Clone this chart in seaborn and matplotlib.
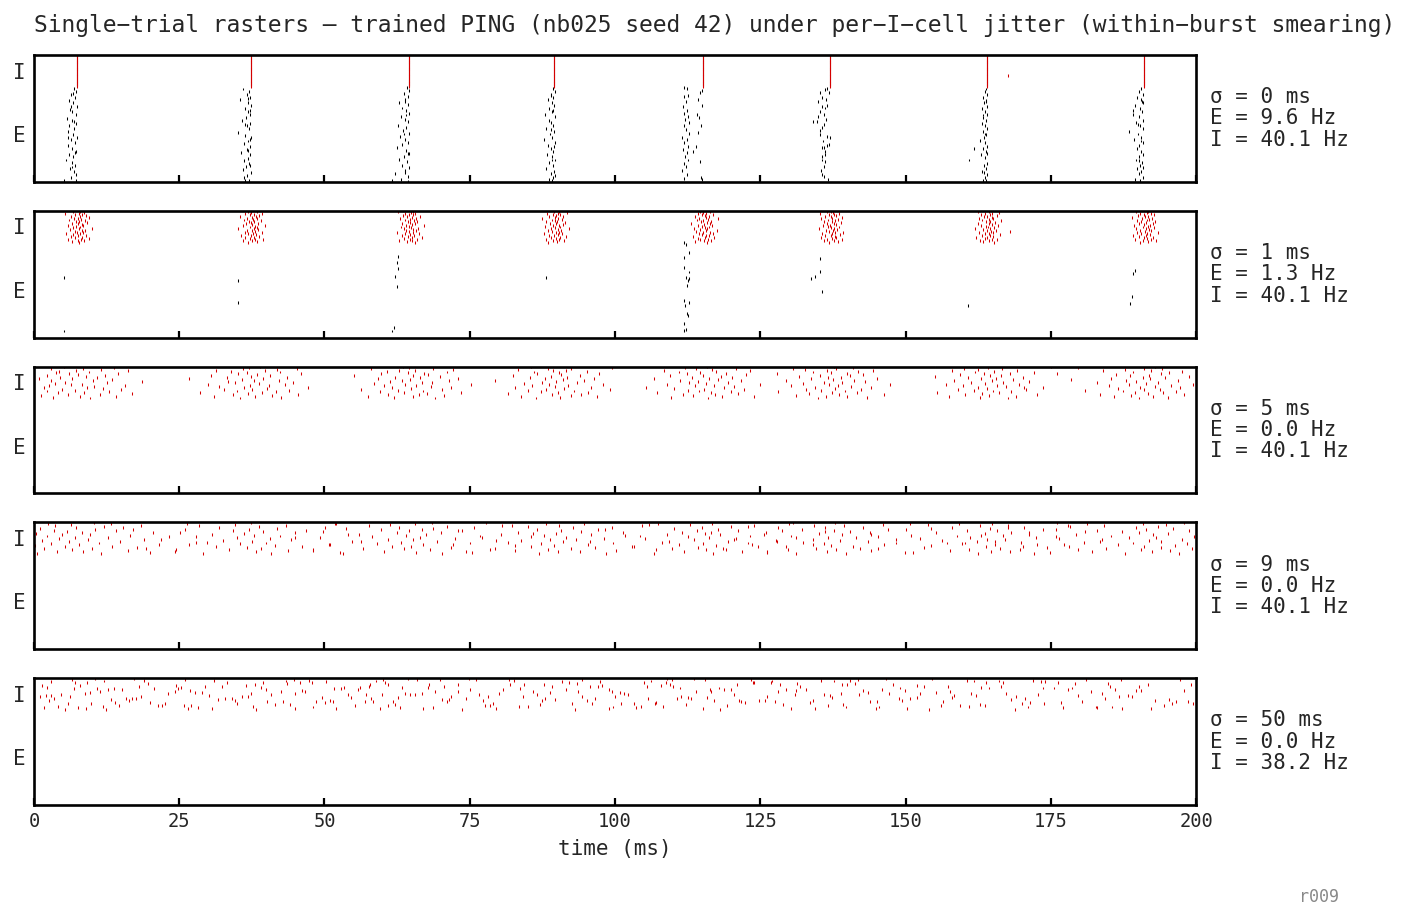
import numpy as np
import pandas as pd
import matplotlib
matplotlib.use("Agg")
import matplotlib.pyplot as plt
import seaborn as sns

sns.set_theme(style="white")
plt.rcParams['font.family'] = ['DejaVu Sans Mono', 'DejaVu Sans']

N_E, N_I = 150, 50
T_MAX = 200

# population burst times (ms) of the unjittered network
burst_times = [7.4, 37.3, 64.5, 89.5, 115.1, 137.0, 164.0, 191.0]

sigmas = [0, 1, 5, 9, 50]
e_rates = [9.6, 1.3, 0.0, 0.0, 0.0]
i_rates = [40.1, 40.1, 40.1, 40.1, 38.2]

# one I cell fires one extra (off-burst) spike
extra_cell = 17
extra_times = [167.6, 167.9, 170.3, 160.2, 58.0]

# E spikes (time ms, E cell) for sigma = 0
e_spikes_s0 = [
    (6.9, 147), (7.3, 142), (6.4, 137), (7.1, 133), (6.0, 128), (6.8, 124), (7.4, 119), (6.2, 114),
    (6.6, 110), (7.2, 106), (5.7, 100), (6.5, 97), (7.3, 92), (6.1, 88), (6.9, 84), (5.9, 79),
    (6.7, 74), (7.4, 70), (6.3, 66), (7.0, 61), (5.8, 57), (6.6, 52), (7.2, 48), (6.0, 43),
    (6.8, 39), (5.6, 34), (6.5, 30), (7.1, 25), (6.2, 21), (6.9, 16), (7.3, 11), (6.4, 7),
    (5.2, 2), (7.3, 2), (6.7, 139), (6.3, 118), (6.9, 94), (5.9, 70), (7.0, 46), (6.6, 23),
    (36.0, 146), (37.0, 142), (36.6, 138), (37.2, 133), (35.4, 129), (36.9, 124), (37.3, 120), (36.3, 115),
    (36.8, 110), (37.1, 106), (36.5, 101), (35.8, 97), (37.2, 92), (36.7, 88), (37.0, 83), (35.2, 78),
    (36.4, 73), (37.3, 69), (36.9, 64), (36.2, 60), (37.1, 55), (36.6, 51), (35.6, 46), (37.2, 42),
    (36.8, 37), (36.1, 33), (37.0, 28), (36.5, 24), (35.9, 19), (37.3, 15), (36.7, 10), (36.2, 6),
    (37.0, 2), (36.4, 1), (36.9, 131), (37.2, 112), (36.4, 90), (37.1, 67), (36.8, 49), (37.2, 26),
    (64.2, 148), (64.5, 143), (63.6, 139), (64.3, 134), (63.9, 130), (62.9, 125), (64.4, 121), (63.4, 116),
    (64.0, 112), (64.5, 107), (63.1, 103), (63.8, 98), (64.3, 94), (62.6, 89), (64.1, 85), (63.5, 80),
    (64.5, 76), (63.0, 71), (63.9, 67), (64.4, 62), (63.3, 58), (62.4, 53), (64.0, 49), (64.5, 44),
    (63.7, 40), (62.8, 35), (64.2, 31), (63.4, 26), (64.5, 22), (63.9, 17), (62.1, 13), (64.3, 8),
    (63.2, 4), (61.7, 1), (64.4, 0), (63.8, 127), (64.1, 105), (63.6, 75), (64.3, 45), (63.9, 15),
    (89.3, 147), (89.6, 142), (88.9, 138), (89.4, 133), (88.4, 129), (89.1, 124), (89.5, 120), (88.7, 115),
    (89.2, 111), (87.9, 106), (89.6, 102), (88.6, 97), (89.0, 93), (89.4, 88), (88.2, 84), (89.5, 79),
    (88.8, 75), (89.2, 70), (87.7, 66), (89.6, 61), (88.5, 57), (89.0, 52), (89.4, 48), (88.3, 43),
    (89.1, 39), (89.6, 34), (88.7, 30), (89.3, 25), (88.1, 21), (89.5, 16), (88.9, 12), (89.4, 7),
    (88.6, 3), (89.2, 1), (89.0, 135), (89.3, 112), (88.9, 82), (89.5, 56), (89.2, 34), (89.6, 9),
    (111.9, 149), (112.3, 147), (112.5, 136), (111.8, 134), (112.2, 126), (111.7, 118), (112.4, 112), (111.9, 108),
    (112.6, 102), (112.1, 98), (112.7, 93), (111.8, 88), (112.2, 82), (112.8, 76), (111.6, 70), (112.3, 66),
    (111.9, 61), (112.5, 56), (111.7, 50), (112.3, 46), (112.0, 40), (112.6, 34), (111.8, 29), (112.2, 24),
    (111.6, 18), (112.4, 11), (111.9, 5), (114.9, 144), (114.7, 140), (114.3, 129), (114.9, 120), (114.1, 106),
    (114.4, 101), (114.8, 88), (113.9, 56), (114.6, 32), (114.8, 6), (115.0, 3), (113.4, 48), (114.2, 77),
    (136.4, 147), (136.1, 145), (135.3, 140), (135.7, 132), (136.3, 129), (135.0, 126), (135.6, 118), (136.1, 116),
    (135.3, 110), (135.9, 106), (135.0, 102), (136.3, 98), (134.1, 95), (134.7, 95), (135.9, 90), (135.7, 85),
    (135.3, 74), (136.4, 71), (137.0, 70), (135.6, 53), (135.9, 54), (136.4, 57), (136.9, 58), (135.6, 40),
    (136.1, 42), (135.7, 34), (136.1, 32), (135.9, 24), (135.7, 11), (135.9, 8), (136.7, 3), (136.8, 140),
    (135.2, 80), (136.5, 120), (135.8, 64), (136.2, 48), (135.4, 18),
    (163.8, 146), (163.6, 142), (164.0, 137), (163.3, 133), (163.9, 128), (163.5, 124), (164.1, 119), (163.2, 115),
    (163.7, 110), (164.0, 106), (163.4, 101), (163.8, 97), (163.1, 92), (163.6, 88), (164.0, 83), (163.3, 79),
    (163.9, 74), (163.5, 70), (162.8, 65), (163.7, 61), (164.1, 56), (163.4, 52), (163.9, 47), (163.0, 43),
    (163.6, 38), (161.0, 34), (164.0, 29), (163.5, 25), (163.8, 20), (163.2, 16), (164.1, 11), (163.6, 7),
    (163.9, 2), (163.3, 1), (163.7, 75), (164.0, 45), (163.5, 15), (161.8, 52), (163.9, 127), (163.4, 105),
    (190.6, 147), (190.2, 142), (190.8, 138), (189.9, 133), (190.5, 129), (190.9, 124), (189.4, 120), (190.3, 115),
    (190.7, 111), (189.1, 106), (190.1, 102), (190.8, 97), (189.7, 93), (190.4, 88), (190.9, 84), (188.4, 79),
    (190.0, 75), (190.6, 70), (189.3, 66), (190.8, 61), (190.2, 57), (189.8, 52), (190.5, 48), (190.9, 43),
    (190.1, 39), (189.6, 34), (190.7, 30), (190.3, 25), (189.9, 21), (190.6, 16), (190.2, 12), (190.8, 7),
    (189.5, 3), (190.4, 1), (190.7, 127), (190.0, 90), (190.5, 64), (190.2, 33), (189.2, 112), (190.9, 22),
]

# E spikes (time ms, E cell) for sigma = 1
e_spikes_s1 = [
    (5.2, 94), (5.2, 10), (35.1, 90), (35.1, 55),
    (62.6, 128), (62.4, 118), (62.7, 108), (62.2, 96), (62.5, 80), (61.9, 16), (61.6, 10),
    (88.1, 95),
    (111.9, 149), (112.2, 146), (112.8, 134), (111.9, 126), (111.8, 110), (112.8, 103), (112.2, 95),
    (112.7, 93), (112.5, 89), (112.4, 82), (111.8, 58), (112.8, 55), (112.0, 50), (112.3, 38),
    (112.5, 35), (111.8, 22), (111.9, 11), (112.2, 13),
    (135.2, 125), (135.2, 104), (134.5, 96), (133.8, 93), (135.6, 73),
    (160.8, 50),
    (189.5, 106), (189.2, 100), (188.9, 64), (188.6, 53),
]

# per-I-cell jitter offsets (ms), one row per burst, one column per I cell
jitter_s1 = [
    [0.4, -0.8, 1.2, 0.1, -1.5, 0.7, 2.1, -0.3, 0.9, -1.1, 0.2, 1.6, -0.6, 0.5, -1.9, 1.0, 0.0, -0.4, 1.4, 0.8, -1.2, 0.3, 2.6, -0.7, 0.6, -0.1, 1.1, -1.6, 0.9, 0.2, -0.9, 1.8, 0.4, -0.2, 1.3, -1.3, 0.7, 0.1, -0.5, 2.0, 0.5, -1.0, 1.5, -0.3, 0.8, -2.0, 0.3, 1.2, -0.6, 0.6],
    [-0.5, 1.1, 0.3, -1.3, 0.8, 2.2, -0.2, 0.6, -0.9, 1.5, 0.1, -1.7, 0.9, 0.4, -0.4, 1.9, -1.0, 0.7, 0.2, -0.6, 1.3, -2.1, 0.5, 1.0, -0.1, 0.8, -1.4, 2.4, 0.3, -0.8, 1.2, 0.0, -0.3, 0.6, 1.7, -1.1, 0.4, -0.7, 1.0, 0.2, -1.8, 0.9, 1.4, -0.2, 0.5, -0.9, 2.0, 0.1, -0.5, 1.1],
    [1.0, -0.3, 0.6, -1.6, 0.2, 1.4, -0.8, 2.3, 0.5, -0.1, -1.2, 0.9, 0.3, 1.8, -0.6, 0.7, -2.0, 0.1, 1.2, -0.4, 0.8, -0.9, 1.6, 0.4, -1.4, 0.0, 2.7, -0.5, 0.6, 1.1, -1.1, 0.3, -0.2, 1.5, 0.9, -0.7, 0.2, -1.5, 1.3, 0.5, -0.3, 2.0, -1.0, 0.7, 0.1, -0.6, 1.0, 0.4, -1.9, 0.8],
    [-1.0, 0.5, 1.7, -0.2, 0.9, -1.4, 0.3, 1.1, -0.6, 2.1, 0.0, -0.9, 0.7, 1.4, -1.8, 0.4, 0.9, -0.3, 1.2, -1.1, 0.6, 2.5, -0.5, 0.2, 1.0, -1.6, 0.8, -0.1, 1.5, 0.3, -0.7, 1.9, -1.3, 0.5, 0.1, -0.4, 1.3, 0.7, -2.0, 0.2, 1.6, -0.8, 0.4, 1.1, -0.2, 0.6, -1.2, 2.2, 0.0, 0.9],
    [0.7, -1.3, 0.2, 1.5, -0.4, 0.9, -0.9, 2.0, 0.3, -1.7, 1.1, 0.5, -0.2, 1.8, -0.7, 0.0, 1.3, -1.1, 0.6, 2.4, -0.5, 0.8, -1.5, 0.4, 1.0, -0.1, 1.6, -0.8, 0.2, 1.2, -2.1, 0.7, -0.3, 1.4, 0.1, -1.0, 0.9, 2.7, -0.6, 0.5, 1.1, -1.4, 0.3, -0.2, 1.7, 0.6, -0.9, 0.0, 1.2, -0.4],
    [-0.2, 1.4, -1.1, 0.6, 2.0, -0.5, 0.3, 1.0, -1.6, 0.8, 0.1, -0.8, 1.7, 0.4, -1.3, 0.9, 2.3, -0.1, 0.5, -0.7, 1.2, -1.9, 0.7, 0.2, 1.5, -0.4, 0.0, -1.2, 1.1, 0.6, -0.6, 1.9, 0.3, -1.0, 0.8, -0.3, 1.3, -1.5, 0.4, 2.1, -0.9, 0.1, 1.0, -0.2, 0.7, -1.7, 1.6, 0.5, -0.5, 0.2],
    [1.3, -0.6, 0.4, -1.2, 0.9, 1.8, -0.3, 0.1, -1.8, 1.1, 0.6, -0.9, 2.2, 0.3, -0.4, 1.0, -1.4, 0.7, 0.0, 1.6, -0.7, 0.5, -2.0, 1.2, 0.2, -0.1, 1.9, -1.0, 0.8, 0.4, -1.5, 1.4, -0.2, 0.6, 2.5, -0.8, 0.3, 1.1, -1.3, 0.9, -0.5, 0.1, 1.7, -1.1, 0.5, 0.8, -0.3, 2.0, -1.6, 0.4],
    [-0.7, 0.8, 2.1, -0.1, 1.2, -1.5, 0.5, 0.0, 1.6, -0.9, 0.3, -1.9, 1.0, 0.6, -0.4, 2.4, -1.1, 0.2, 1.3, -0.6, 0.9, -1.3, 0.4, 1.8, -0.2, 0.7, -1.7, 1.1, 0.1, -0.8, 1.5, 0.3, -0.5, 2.0, -1.2, 0.6, 0.9, -0.3, 1.4, -2.1, 0.2, 0.8, -1.0, 1.7, 0.0, -0.6, 1.2, 0.5, -1.4, 0.7],
]

jitter_s5 = [
    [2.3, -4.1, 6.8, 0.5, -6.2, 3.9, -1.6, 9.4, -3.3, 1.2, 5.5, -5.1, -0.4, 7.6, -2.5, 4.4, -5.6, 1.8, 3.0, -4.8, 8.3, -1.0, 0.9, -3.8, 5.1, -2.0, 11.2, -4.4, 2.7, 6.1, -0.8, -6.6, 3.5, -2.9, 1.5, 4.8, -5.2, 0.1, 7.0, -1.4, -3.6, 2.0, -3.1, 8.8, -0.2, 4.1, -4.4, 1.1, 6.4, -2.2],
    [-1.8, 5.2, -6.3, 0.7, 3.6, -3.0, 8.1, -0.5, 1.9, -8.7, 4.3, -2.4, 6.6, 0.2, -4.6, 2.8, -1.1, 9.8, -5.5, 3.2, -0.1, -7.4, 5.9, 1.4, -2.7, 7.3, -3.9, 0.6, 4.9, -1.5, -10.6, 2.1, 6.2, -4.0, 0.0, 3.4, -6.8, 1.0, -2.1, 8.6, -0.7, 5.0, -3.4, 2.5, -5.9, 4.6, -1.3, 7.9, -0.3, 1.6],
    [4.5, -2.6, 0.8, -7.0, 6.0, 1.7, -3.5, 3.1, -0.9, 9.0, -5.0, 2.4, -1.9, 5.7, -8.2, 0.4, 7.2, -2.8, 3.8, -4.3, 1.3, 10.7, -0.6, -6.0, 4.0, 2.2, -3.2, 6.9, -1.2, 0.3, -5.3, 8.4, 1.9, -2.3, 5.3, -9.5, 0.7, 3.3, -4.7, 2.6, -0.2, 6.5, -3.7, 1.1, -1.7, 7.7, -6.5, 4.2, 0.0, -1.0],
    [-3.1, 1.0, 7.4, -5.6, 2.9, -0.3, 4.7, -8.0, 0.6, 5.8, -2.2, 3.5, -4.5, 9.6, -1.4, 1.8, -6.7, 6.3, 0.1, -3.8, 2.4, -0.8, 8.5, -5.1, 3.9, -2.0, 0.4, -10.1, 5.2, 1.5, -1.6, 6.9, -4.2, 2.3, -0.5, 4.4, -7.1, 1.2, -2.9, 7.8, 0.8, -3.5, 5.6, -0.1, 2.0, -6.2, 3.0, -1.1, 10.0, -4.0],
    [0.9, -5.4, 3.3, 8.9, -1.7, 2.1, -3.4, 6.0, -7.8, 1.4, 4.9, -0.6, -2.6, 7.1, 0.2, -4.9, 3.7, -9.8, 5.4, -1.3, 1.9, -6.1, 9.9, 0.5, -2.4, 4.3, -0.9, 6.6, -3.9, 2.7, -8.4, 1.0, 5.0, -1.9, 3.1, -5.7, 0.0, 7.5, -2.8, 4.0, -0.4, -4.1, 2.2, 8.2, -6.6, 1.6, -1.2, 5.8, -3.0, 0.7],
    [-2.0, 6.4, -0.7, 3.0, -5.9, 1.6, 9.3, -3.6, 0.3, 4.6, -8.9, 2.5, -1.5, 5.3, -4.1, 0.8, 7.0, -2.5, 3.6, -6.8, 1.3, -0.2, 10.4, -4.6, 2.0, -1.1, 6.1, -7.5, 4.2, 0.5, -3.2, 8.0, -0.4, 1.9, -5.3, 3.4, -1.8, 5.7, -9.2, 2.9, 0.1, -2.9, 4.8, -0.6, 7.4, -4.3, 1.1, -6.3, 3.9, 0.6],
    [3.6, -1.2, -6.5, 5.0, 0.4, -3.7, 8.6, -0.8, 2.1, -8.6, 4.1, 1.0, -2.3, 6.7, -5.0, 0.0, 9.7, -1.6, 3.2, -4.2, 1.7, -7.0, 5.5, -0.3, 2.8, -2.7, 7.3, 0.9, -5.6, 4.5, -1.0, 1.5, -3.3, 6.2, -9.0, 2.4, 0.6, -4.7, 3.9, -0.5, 8.1, -2.1, 1.2, -6.0, 5.1, -1.5, 2.6, -3.9, 0.2, 11.0],
    [-0.9, 4.2, -5.2, 1.5, -2.2, 7.0, -7.6, 0.7, 3.3, -1.6, 5.6, -3.5, -10.2, 2.8, 0.1, -4.4, 6.3, -0.6, 1.9, -6.0, 4.7, -2.6, 8.4, 0.4, -8.1, 2.5, -1.3, 5.9, -3.0, -12.5, 1.1, -5.6, 3.6, -0.2, 7.7, -2.4, 0.9, -4.8, 2.9, -15.0, 4.4, -1.9, 6.5, -7.0, 1.3, -3.3, 0.0, 3.1, -11.3, 2.0],
]

jitter_s9 = [
    [4.2, -6.9, 12.5, 1.1, -3.4, 8.7, -0.9, 17.0, -5.6, 2.6, 10.3, -2.0, 6.1, -7.2, 14.2, 0.3, -4.5, 3.8, 20.5, -1.3, 7.4, -6.0, 1.9, 11.6, -3.1, 5.3, -0.4, 15.8, -5.2, 9.2, -2.6, 2.2, -7.0, 13.1, 0.8, -1.7, 6.8, -4.0, 18.6, 3.1, -6.4, 8.0, -0.1, 4.7, -3.8, 11.0, -1.0, 5.8, -5.0, 2.9],
    [-8.2, 3.5, 15.3, -13.0, 0.9, 6.4, -3.7, 10.7, -18.1, 1.8, -0.6, 8.9, -5.9, 4.1, -10.6, 13.6, -1.9, 2.7, -7.5, 19.0, 0.2, -4.8, 6.9, -15.4, 3.3, -2.3, 11.9, -9.4, 5.0, 0.5, -6.6, 16.7, -1.2, 7.7, -12.1, 2.1, -3.0, 9.6, -0.3, -20.2, 4.6, -5.5, 12.8, 1.4, -8.9, 6.0, -2.7, 14.5, -11.0, 0.0],
    [5.7, -11.4, 1.3, 9.8, -4.2, -16.5, 3.6, 13.9, -0.8, -7.9, 7.2, 0.4, -2.8, 18.3, -13.7, 2.5, -5.4, 10.5, -1.4, 4.9, -9.8, 15.0, 0.7, -3.5, 7.9, -19.6, 1.9, -6.3, 12.2, -0.5, 3.0, -8.6, 21.4, -2.1, 5.5, -14.8, 0.1, 8.4, -4.7, 2.3, -10.8, 11.3, -1.6, 6.6, -6.9, 16.1, -3.3, 1.0, -12.6, 4.0],
    [-2.5, 9.0, -14.1, 4.4, 0.6, -6.8, 17.6, -1.1, 2.9, -10.2, 7.1, -4.0, 13.4, 0.0, -17.3, 5.8, -2.3, 10.1, -8.0, 1.5, 19.8, -5.7, 3.7, -0.7, 8.6, -12.4, 2.0, -3.9, 14.8, -1.8, 6.3, -9.1, 0.3, 11.8, -6.2, 4.7, -15.9, 1.2, -2.9, 7.5, -20.8, 3.2, 9.9, -4.4, 0.8, -7.3, 16.4, -1.4, 5.1, -11.7],
    [1.7, -8.4, 11.1, -3.2, 6.7, -15.0, 0.5, 14.6, -5.3, 3.4, -0.9, 9.5, -11.9, 2.2, 18.9, -4.1, 0.0, 7.8, -7.0, 4.3, -19.4, 12.6, -1.5, 5.4, -9.9, 1.1, 16.0, -2.6, 8.2, -13.3, 3.0, -6.1, 0.4, 10.8, -3.6, 21.0, -1.0, 6.1, -16.8, 2.6, -5.0, 13.0, -0.2, 4.8, -10.5, 8.8, -2.2, 1.6, -7.7, 15.5],
    [-5.8, 2.7, 12.9, -0.6, -10.9, 7.0, 1.0, -17.9, 5.2, -2.4, 16.2, -7.6, 3.9, 0.2, -13.5, 9.3, -1.1, 20.1, -4.6, 6.5, -9.2, 1.7, 11.4, -3.0, -16.1, 4.5, -0.3, 8.3, -6.7, 14.0, 2.0, -11.3, -1.9, 6.8, -20.5, 3.5, 0.6, -8.3, 10.0, -4.9, 17.4, -0.8, 5.6, -14.2, 2.4, -2.8, 9.1, -7.1, 13.7, 0.9],
    [8.1, -1.5, -12.8, 4.0, 0.7, -6.4, 15.6, -3.1, 2.3, -18.8, 10.4, -0.2, 6.2, -9.6, 1.4, 13.3, -4.3, -15.6, 5.9, -1.7, 19.5, -7.8, 3.1, 0.1, -11.6, 8.5, -2.9, 11.9, -5.1, 2.8, -20.0, 7.3, -0.4, 4.2, -8.7, 16.8, 1.8, -3.4, 9.7, -13.9, 0.5, 6.4, -6.0, 14.3, -1.2, 3.6, -10.1, 0.9, -4.8, 12.1],
    [-3.3, 6.0, -16.2, 1.4, -9.0, 4.5, -0.5, -21.3, 8.3, -6.5, 2.9, -12.9, 0.0, 5.3, -4.4, -18.4, 7.4, -1.8, -10.3, 3.0, -25.6, 0.9, -7.2, 6.6, -14.6, 2.1, -2.6, 8.7, -5.6, -28.0, 1.6, -11.7, 4.1, -0.9, -19.8, -3.8, 7.8, -8.1, 0.4, -15.1, 5.0, -1.3, -23.4, 2.5, -6.9, -13.1, 3.8, -0.2, -9.7, 6.9],
]

# sigma = 50: jittered spike times (ms) per burst and I cell, out-of-window spikes are lost
times_s50 = [
    [12.4, 187.3, 45.0, 103.6, -8.2, 160.9, 27.1, 78.5, 139.2, 5.8, 96.0, 171.4, 58.3, 121.7, 34.6, 193.0, 70.2, 148.8, 15.9, 112.5, 84.1, -21.6, 179.7, 40.8, 131.0, 63.9, 8.7, 155.3, 99.4, 24.2, 142.6, 75.0, 186.1, 51.7, 117.9, 2.3, 166.5, 89.2, 36.5, 128.4, 57.8, 19.6, 104.9, 60.4, 174.0, 137.7, 47.3, 81.8, 197.2, 10.5],
    [93.1, 30.7, 150.2, 68.6, 185.5, 4.1, 119.3, 55.2, 162.8, 22.6, -14.9, 107.0, 42.9, 198.6, 77.3, 134.1, 13.2, 88.0, 170.5, 49.6, 126.2, 1.0, 158.4, 64.7, 102.3, 37.4, 183.8, 214.5, 116.6, 72.9, 26.8, 146.0, 91.5, 6.9, 175.6, 53.4, 131.9, 18.1, 97.8, 191.7, 61.0, 141.3, 33.2, 108.8, -3.7, 166.0, 82.6, 123.4, 44.7, 154.6],
    [168.9, 52.0, 115.2, 7.6, 139.8, 83.4, 25.9, 194.5, 62.2, 101.1, -30.2, 176.8, 40.1, 127.6, 16.3, 149.4, 71.5, 110.7, 3.5, 158.0, 94.3, 35.8, 188.2, 57.1, 120.5, 221.0, 80.0, 143.5, 11.4, 181.9, 46.2, 99.0, 132.8, 20.7, 164.3, 67.8, 105.5, 29.4, 151.9, 87.7, 199.1, 43.6, 124.0, 9.2, 173.3, 58.9, 135.4, 76.1, 6.5, 113.6],
    [38.2, 144.9, 79.6, 1.8, 171.0, 108.3, 21.4, 60.9, 128.9, 195.8, 92.6, 14.0, 156.5, 48.5, 117.1, 232.0, 31.6, 184.4, 74.4, 137.3, 6.2, 100.0, 162.1, 54.0, 86.5, -18.0, 147.2, 27.7, 113.9, 69.1, 190.6, 40.0, 129.5, 10.9, 178.6, 63.3, 97.0, 153.1, 24.5, 121.0, 81.9, 93.4, 45.8, 166.7, 2.9, 106.2, 140.5, 66.0, 187.0, 17.2],
    [118.0, 59.5, 192.3, 28.3, 145.5, 85.0, -9.8, 163.7, 41.4, 103.2, 9.9, 133.6, 71.0, 180.4, 50.9, 125.8, 210.2, 16.8, 96.6, 152.0, 36.9, 111.4, 3.0, 172.8, 65.6, 138.9, 23.0, 88.8, 157.7, 46.6, 198.0, 80.7, 119.9, 13.7, 149.1, 56.1, 185.2, 32.3, -25.5, 109.4, 68.0, 131.4, 7.1, 176.2, 90.9, 43.3, 160.6, 26.0, 115.5, 74.8],
    [73.6, 9.0, 130.3, 177.1, 48.0, 104.4, 22.0, 156.1, 87.1, 199.5, 35.0, 122.3, 61.8, 143.8, 2.6, 95.2, 168.1, 17.6, 113.0, 54.6, 186.8, 78.2, 30.1, 135.9, 4.7, 161.2, 66.8, 100.8, 226.4, 42.5, 149.9, 12.8, 118.7, 83.7, 173.6, 25.3, 57.7, 190.1, 107.9, 38.0, 140.0, -16.4, 92.0, 163.9, 50.2, 127.1, 19.0, 181.0, 69.9, 146.6],
    [154.0, 26.5, 98.9, 63.0, 182.7, 11.9, 136.6, 77.7, 44.0, 170.0, 106.8, 20.0, 196.6, 56.9, 124.7, -11.2, 89.6, 150.7, 34.0, 115.8, 71.8, 188.9, 2.0, 142.0, 59.9, 101.6, 167.2, 28.9, 218.7, 85.8, 131.2, 15.1, 178.0, 52.8, 111.1, 39.1, 157.3, 95.7, 8.0, 139.1, 73.0, 184.9, 47.9, 123.8, -38.0, 161.8, 30.9, 94.4, 109.8, 64.3],
    [5.3, 134.5, 66.9, 183.0, 99.7, 37.7, 159.4, 14.6, 112.2, 79.0, 173.9, 50.1, 145.0, 51.5, 121.4, 87.4, 195.3, 32.8, 105.7, 62.7, 169.0, 18.5, 137.0, 236.5, 76.6, 44.9, 152.5, 9.6, 128.0, 93.7, 189.7, 55.8, 116.4, 24.8, -44.0, 163.0, 70.6, 110.0, 1.4, 147.9, 84.4, 179.2, 39.4, 126.9, 97.4, 12.1, 172.0, 60.0, 141.8, 108.9],
]

title = ("Single\u2212trial rasters \u2014 trained PING (nb025 seed 42) under "
         "per\u2212I\u2212cell jitter (within\u2212burst smearing)")


def i_table(k):
    bt = np.array(burst_times)[:, None]
    if k == 0:
        return np.repeat(bt, N_I, axis=1)
    if k == 4:
        return np.array(times_s50)
    jit = {1: jitter_s1, 2: jitter_s5, 3: jitter_s9}[k]
    return bt + np.array(jit)


def panel_df(k):
    tab = i_table(k)
    cells = np.tile(np.arange(N_I), tab.shape[0])
    t = tab.ravel()
    keep = (t >= 0) & (t <= T_MAX)
    i_df = pd.DataFrame({'t': t[keep], 'cell': N_E + cells[keep], 'pop': 'I'})
    extra = pd.DataFrame({'t': [extra_times[k]], 'cell': [N_E + extra_cell], 'pop': ['I']})
    e_list = {0: e_spikes_s0, 1: e_spikes_s1}.get(k, [])
    e_df = pd.DataFrame(e_list, columns=['t', 'cell'])
    e_df['pop'] = 'E'
    return pd.concat([e_df, i_df, extra], ignore_index=True)


fig, axes = plt.subplots(5, 1, figsize=(14.09, 9.22), dpi=100, sharex=True)
fig.subplots_adjust(left=0.0241, right=0.8489, top=0.9403, bottom=0.1269, hspace=0.228)

pal = {'E': 'black', 'I': '#d40000'}
for k, ax in enumerate(axes):
    df = panel_df(k)
    sns.scatterplot(data=df, x='t', y='cell', hue='pop', palette=pal, marker='|',
                    s=4.5, linewidth=0.75, legend=False, ax=ax)
    ax.set_xlim(0, T_MAX)
    ax.set_ylim(-0.5, N_E + N_I - 0.5)
    ax.set_xticks(range(0, T_MAX + 1, 25))
    ax.set_yticks([N_E + N_I / 2, N_E / 2])
    ax.set_yticklabels(['I', 'E'])
    ax.set_xlabel('')
    ax.set_ylabel('')
    ax.tick_params(axis='y', left=False, length=0, labelsize=15, pad=6)
    ax.tick_params(axis='x', bottom=True, direction='in', length=5, width=1.6,
                   color='black', labelsize=13.5, pad=5)
    for sp in ax.spines.values():
        sp.set_color('black')
        sp.set_linewidth(1.9)
    ax.text(1.012, 0.5,
            f"\u03c3 = {sigmas[k]} ms\nE = {e_rates[k]:.1f} Hz\nI = {i_rates[k]:.1f} Hz",
            transform=ax.transAxes, ha='left', va='center', fontsize=15, linespacing=1.08)

axes[-1].set_xlabel('time (ms)', fontsize=15, labelpad=6)
fig.text(0.0241, 1 - 25.5 / 922, title, ha='left', va='center', fontsize=16.5)
fig.text(1319 / 1409, 1 - 897 / 922, 'r009', ha='center', va='center', fontsize=12, color='#888888')

fig.savefig('out.png', dpi=100)
